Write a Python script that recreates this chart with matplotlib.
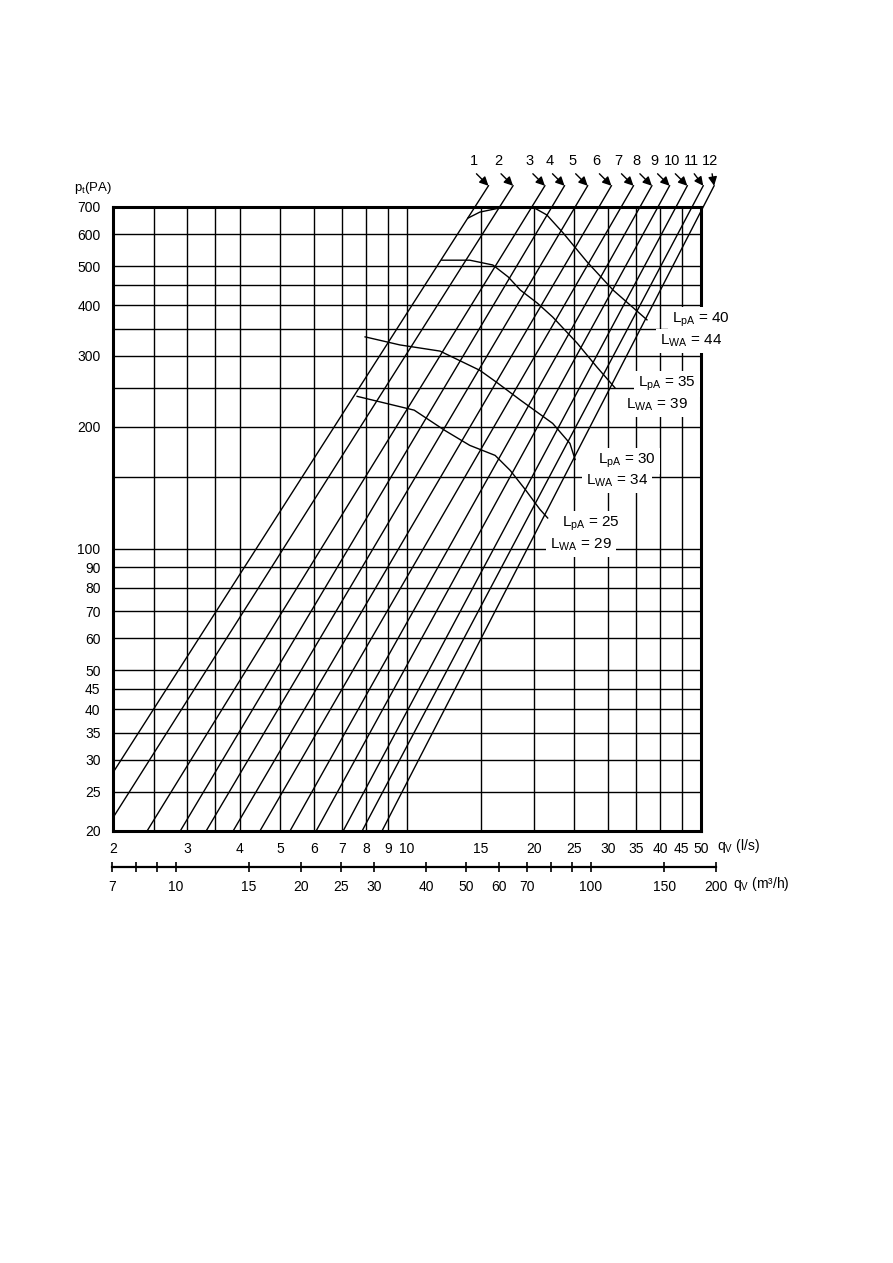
import matplotlib
matplotlib.use("Agg")
import matplotlib.pyplot as plt
import numpy as np
from matplotlib.ticker import NullLocator

plt.rcParams['font.family'] = ['Liberation Sans', 'DejaVu Sans']
plt.rcParams['mathtext.fontset'] = 'custom'
plt.rcParams['mathtext.rm'] = 'Liberation Sans'
plt.rcParams['mathtext.default'] = 'rm'

# --- axis grid and tick values ---
P_GRID = [20, 25, 30, 35, 40, 45, 50, 60, 70, 80, 90, 100, 150, 200, 250,
          300, 350, 400, 450, 500, 600, 700]
P_LABELS = [20, 25, 30, 35, 40, 45, 50, 60, 70, 80, 90, 100, 200, 300, 400,
            500, 600, 700]
Q_GRID = [2, 2.5, 3, 3.5, 4, 5, 6, 7, 8, 9, 10, 15, 20, 25, 30, 35, 40, 45, 50]
Q_LABELS = [2, 3, 4, 5, 6, 7, 8, 9, 10, 15, 20, 25, 30, 35, 40, 45, 50]
M3H_TICKS = [7, 8, 9, 10, 15, 20, 25, 30, 40, 50, 60, 70, 80, 90, 100, 150, 200]
M3H_LABELS = [7, 10, 15, 20, 25, 30, 40, 50, 60, 70, 100, 150, 200]

# --- fan setting lines 1..12: flow (l/s) at 20 Pa and at 700 Pa ---
LINE_NAMES = ['1', '2', '3', '4', '5', '6', '7', '8', '9', '10', '11', '12']
Q_AT_20 = [1.63, 1.91, 2.41, 2.89, 3.33, 3.86, 4.47, 5.27, 6.08, 7.05, 7.82, 8.72]
Q_AT_700 = [14.5, 16.6, 19.8, 22.1, 25.1, 28.6, 32.3, 35.8, 39.5, 43.6, 47.6, 50.6]

# --- sound level curves (q in l/s, p in Pa) ---
LP40_Q = [13.96, 14.9, 16.6, 18.06, 19.9, 21.5, 23.5, 26.8, 30.9, 37.2]
LP40_P = [657, 680, 696, 700, 700, 669, 604, 512, 436, 368]
LP35_Q = [12.1, 14.1, 16.0, 17.4, 18.6, 20.4, 22.2, 25.4, 28.3, 31.2]
LP35_P = [517, 517, 503, 470, 436, 405, 374, 322, 281, 250]
LP30_Q = [7.95, 9.62, 11.98, 14.9, 16.4, 18.6, 22.2, 24.4, 25.1]
LP30_P = [334, 319, 308, 276, 257, 233, 204, 182, 166]
LP25_Q = [7.61, 10.4, 12.3, 14.1, 16.2, 17.6, 19.1, 20.7, 21.6]
LP25_P = [238, 220, 196, 180, 170, 156, 140, 125, 119]

SOUND_LABELS = [('40', '44'), ('35', '39'), ('30', '34'), ('25', '29')]

W, H = 893, 1263


def fx(px):
    return px / W


def fy(py):
    return 1 - py / H


fig = plt.figure(figsize=(W / 100, H / 100), dpi=100)
ax = fig.add_axes([fx(113), fy(831), (701 - 113) / W, (831 - 207) / H])
ax.set_xscale('log')
ax.set_yscale('log')
ax.set_xlim(2, 50)
ax.set_ylim(20, 700)

for q in Q_GRID:
    ax.axvline(q, color='black', lw=1.0, zorder=1)
for p in P_GRID:
    ax.axhline(p, color='black', lw=1.0, zorder=1)

ax.xaxis.set_minor_locator(NullLocator())
ax.yaxis.set_minor_locator(NullLocator())
ax.set_xticks(Q_LABELS, labels=[str(v) for v in Q_LABELS])
ax.set_yticks(P_LABELS, labels=[str(v) for v in P_LABELS])
ax.tick_params(axis='x', length=0, pad=8, labelsize=10)
ax.tick_params(axis='y', length=0, pad=9, labelsize=10)
for s in ax.spines.values():
    s.set_linewidth(2.2)

# fan setting lines, straight in log-log, extended above the frame to the arrows
P_TIP = 790
tip_offsets = [(-12, 12)] * 10 + [(-9, 12), (-2, 12)]
label_offsets = [(-15, 25)] * 10 + [(-12, 25), (-4, 25)]
for i, name in enumerate(LINE_NAMES):
    q20, q700 = Q_AT_20[i], Q_AT_700[i]
    n = np.log(700 / 20) / np.log(q700 / q20)
    if q20 < 2:
        q0, p0 = 2.0, 20 * (2.0 / q20) ** n
    else:
        q0, p0 = q20, 20
    q1 = q20 * (P_TIP / 20) ** (1 / n)
    ax.plot([q0, q1], [p0, P_TIP], color='black', lw=1.0, clip_on=False, zorder=2)
    ax.annotate('', xy=(q1, P_TIP), xytext=tip_offsets[i], textcoords='offset pixels',
                arrowprops=dict(arrowstyle='-|>', color='black', lw=1.0,
                                mutation_scale=13, shrinkA=0, shrinkB=0),
                annotation_clip=False)
    ax.annotate(name, xy=(q1, P_TIP), xytext=label_offsets[i], textcoords='offset pixels',
                ha='center', va='center', fontsize=10.5, annotation_clip=False)

for qs, ps in [(LP40_Q, LP40_P), (LP35_Q, LP35_P), (LP30_Q, LP30_P), (LP25_Q, LP25_P)]:
    ax.plot(qs, ps, color='black', lw=1.0, zorder=2, clip_on=False)

# sound level labels (axes fraction positions)
label_pos = [((0.9507, 0.8189), (0.9303, 0.7853)),
             ((0.8929, 0.7163), (0.8724, 0.6827)),
             ((0.8248, 0.5929), (0.8044, 0.5609)),
             ((0.7636, 0.4920), (0.7432, 0.4583))]
box = dict(facecolor='white', edgecolor='none', pad=3)
for (lpa, lwa), (p1, p2) in zip(SOUND_LABELS, label_pos):
    ax.text(*p1, r'$L_{pA}$ = ' + lpa, transform=ax.transAxes, fontsize=11,
            ha='left', va='center', bbox=box, zorder=5, clip_on=False)
    ax.text(*p2, r'$L_{WA}$ = ' + lwa, transform=ax.transAxes, fontsize=11,
            ha='left', va='center', bbox=box, zorder=5, clip_on=False)

fig.text(fx(74), fy(188), r'$p_t$(PA)', fontsize=9.5, ha='left', va='center')
fig.text(fx(717), fy(846), r'$q_V$ (l/s)', fontsize=10, ha='left', va='center')

# secondary flow scale in m3/h
ax2 = fig.add_axes([fx(111.7), fy(867), (716 - 111.7) / W, 0.0001])
ax2.set_xscale('log')
ax2.set_xlim(7, 200)
ax2.set_yticks([])
for k in ['top', 'left', 'right']:
    ax2.spines[k].set_visible(False)
ax2.spines['bottom'].set_linewidth(1.6)
ax2.xaxis.set_minor_locator(NullLocator())
ax2.set_xticks(M3H_TICKS, labels=[str(v) if v in M3H_LABELS else '' for v in M3H_TICKS])
ax2.tick_params(axis='x', direction='inout', length=7, width=1.2, pad=6, labelsize=10)
ax2.patch.set_visible(False)
fig.text(fx(733), fy(884), r'$q_V$ (m³/h)', fontsize=10, ha='left', va='center')

fig.savefig('out.png', dpi=100, facecolor='white')
